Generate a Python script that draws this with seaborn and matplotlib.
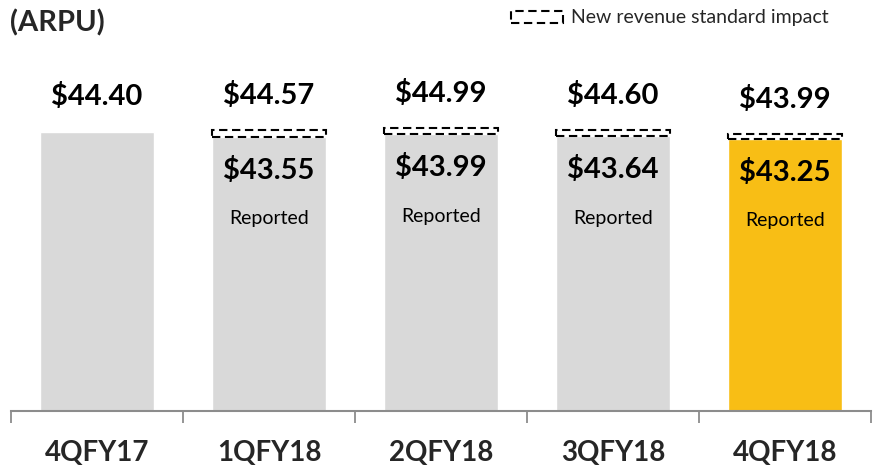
import matplotlib
matplotlib.use('Agg')
import matplotlib.pyplot as plt
import seaborn as sns
import numpy as np
from matplotlib.patches import Patch

quarters = ["4QFY17", "1QFY18", "2QFY18", "3QFY18", "4QFY18"]
reported = [44.40, 43.55, 43.99, 43.64, 43.25]
adjusted = [np.nan, 44.57, 44.99, 44.60, 43.99]
bar_colors = ["#D9D9D9", "#D9D9D9", "#D9D9D9", "#D9D9D9", "#F8BE15"]

sns.set_theme(style="white")
plt.rcParams['font.family'] = ['Lato', 'DejaVu Sans']

fig = plt.figure(figsize=(8.77, 4.70), dpi=100)
ax = fig.add_axes([11 / 877, 59 / 470, 860 / 877, 411 / 470])

sns.barplot(x=quarters, y=reported, hue=quarters, palette=bar_colors,
            legend=False, width=0.668, saturation=1, ax=ax)

# dashed box for the new revenue standard impact
x = np.arange(len(quarters))
rep = np.array(reported)
adj = np.array(adjusted)
has_adj = ~np.isnan(adj)
dash = (0, (4, 2.2))
ax.bar(x[has_adj], adj[has_adj] - rep[has_adj], bottom=rep[has_adj],
       width=0.668, fill=False, edgecolor="black", linestyle=dash,
       linewidth=1.5)

ax.set_xlim(-0.5, len(quarters) - 0.5)
ax.set_ylim(0, 65.3)

# labels
for i in range(len(quarters)):
    top = adj[i] if has_adj[i] else rep[i]
    ax.annotate(f"${top:.2f}", (x[i], top), xytext=(0, 25), textcoords="offset points",
                ha="center", va="center", fontsize=21, fontweight="bold", color="black")
    if has_adj[i]:
        ax.annotate(f"${rep[i]:.2f}", (x[i], rep[i]), xytext=(0, -24), textcoords="offset points",
                    ha="center", va="center", fontsize=21, fontweight="bold", color="black")
        ax.annotate("Reported", (x[i], rep[i]), xytext=(0, -59), textcoords="offset points",
                    ha="center", va="center", fontsize=14, color="black")

# axes styling
for s in ["top", "right", "left"]:
    ax.spines[s].set_visible(False)
ax.spines["bottom"].set_color("#8C8C8C")
ax.spines["bottom"].set_linewidth(1.5)
ax.set_yticks([])
ax.set_xticks(x)
ax.set_xticklabels(quarters, fontsize=20, fontweight="bold")
ax.tick_params(axis="x", which="major", length=0, pad=21)
ax.set_xticks(np.arange(-0.5, len(quarters)), minor=True)
ax.tick_params(axis="x", which="minor", length=8.5, width=1.3, color="#8C8C8C", direction="out", bottom=True)

fig.text(10 / 877, 1 - 23 / 470, "(ARPU)", fontsize=21, fontweight="bold", ha="left", va="center")

handle = Patch(facecolor="none", edgecolor="black", linestyle=dash, linewidth=1.5)
fig.legend(handles=[handle], labels=["New revenue standard impact"], loc="center left",
           bbox_to_anchor=(503 / 877, 1 - 18 / 470), frameon=False, fontsize=14,
           handlelength=2.7, handleheight=0.57, handletextpad=0.4, borderaxespad=0)

fig.savefig("out.png", dpi=100)
